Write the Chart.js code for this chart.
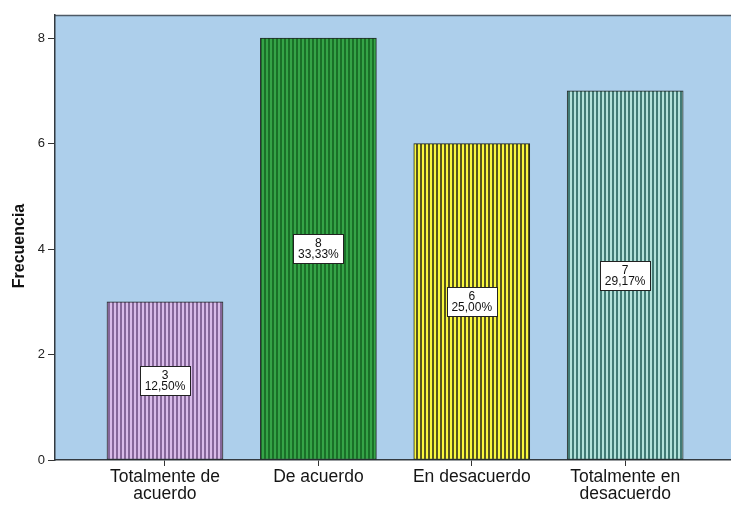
<!DOCTYPE html>
<html>
<head>
<meta charset="utf-8">
<script src="https://cdn.jsdelivr.net/npm/chart.js@4.4.1/dist/chart.umd.min.js"></script>
<style>
	body { margin: 0; background: #ffffff; }
	canvas { display: block; }
</style>
</head>
<body>
<canvas id="grafico" width="731" height="505"></canvas>
<script>
// datos
var categorias = [['Totalmente de', 'acuerdo'], ['De acuerdo'], ['En desacuerdo'], ['Totalmente en', 'desacuerdo']];
var frecuencias = [3, 8, 6, 7];
var porcentajes = ['12,50%', '33,33%', '25,00%', '29,17%'];
var ticksY = [0, 2, 4, 6, 8];
var tituloY = 'Frecuencia';

var fuente = '"Liberation Sans", Arial, sans-serif';

// rayas verticales como en SPSS
function rayas(claro, oscuro){
	var c = document.createElement('canvas');
	c.width = 4;
	c.height = 4;
	var ctx = c.getContext('2d');
	ctx.fillStyle = claro;
	ctx.fillRect(0, 0, 4, 4);
	ctx.fillStyle = oscuro;
	ctx.fillRect(0, 0, 2, 4);
	return ctx.createPattern(c, 'repeat');
}

var rellenos = [
	rayas('#d9bbe9', '#86679a'),
	rayas('#35a447', '#1a7028'),
	rayas('#f9f73e', '#58561f'),
	rayas('#b3e2da', '#427b75')
];

var fondo = {
	id: 'fondo',
	beforeDraw: function(chart){
		var a = chart.chartArea;
		var ctx = chart.ctx;
		ctx.save();
		ctx.fillStyle = '#adcfeb';
		ctx.fillRect(a.left, a.top, a.right - a.left, a.bottom - a.top);
		ctx.strokeStyle = '#4e5a66';
		ctx.lineWidth = 1.5;
		ctx.beginPath();
		ctx.moveTo(a.left, a.top + 0.5);
		ctx.lineTo(a.right, a.top + 0.5);
		ctx.stroke();
		ctx.restore();
	},
	afterDraw: function(chart){
		// titulo del eje Y, un poco mas abajo que el centro
		var ctx = chart.ctx;
		ctx.save();
		ctx.translate(20, 246);
		ctx.rotate(-Math.PI / 2);
		ctx.font = 'bold 16px ' + fuente;
		ctx.fillStyle = '#111111';
		ctx.textAlign = 'center';
		ctx.textBaseline = 'middle';
		ctx.fillText(tituloY, 0, 0);
		ctx.restore();
	}
};

var etiquetas = {
	id: 'etiquetas',
	afterDatasetsDraw: function(chart){
		var ctx = chart.ctx;
		var meta = chart.getDatasetMeta(0);
		ctx.save();
		ctx.font = '12px ' + fuente;
		ctx.textAlign = 'center';
		ctx.textBaseline = 'middle';
		meta.data.forEach(function(barra, i){
			var cx = barra.x;
			var cy = (barra.y + barra.base) / 2;
			var w = 50, h = 29;
			var x0 = Math.round(cx - w / 2) + 0.5;
			var y0 = Math.round(cy - h / 2) + 0.5;
			ctx.fillStyle = '#ffffff';
			ctx.fillRect(x0, y0, w, h);
			ctx.strokeStyle = '#222222';
			ctx.lineWidth = 1;
			ctx.strokeRect(x0, y0, w, h);
			ctx.fillStyle = '#111111';
			ctx.fillText(String(frecuencias[i]), cx, cy - 5);
			ctx.fillText(porcentajes[i], cx, cy + 6);
		});
		ctx.restore();
	}
};

var datos = frecuencias.map(function(v, i){ return { x: i, y: v }; });

new Chart(document.getElementById('grafico'), {
	type: 'bar',
	data: {
		datasets: [{
			label: 'Frecuencia',
			data: datos,
			backgroundColor: rellenos,
			borderColor: '#1f2624',
			borderWidth: 1,
			borderSkipped: false,
			barThickness: 116
		}]
	},
	options: {
		responsive: false,
		animation: false,
		layout: { padding: { top: 15, right: 0, left: 0, bottom: 0 } },
		plugins: {
			legend: { display: false },
			tooltip: { enabled: false }
		},
		scales: {
			x: {
				type: 'linear',
				offset: false,
				min: -0.717,
				max: 3.69,
				afterBuildTicks: function(s){
					s.ticks = categorias.map(function(c, i){ return { value: i }; });
				},
				afterFit: function(s){ s.height = 45; },
				ticks: {
					autoSkip: false,
					maxRotation: 0,
					padding: 3,
					color: '#151515',
					font: { family: fuente, size: 17.5, lineHeight: 0.96 },
					callback: function(v){ return categorias[v]; }
				},
				grid: { offset: false, drawOnChartArea: false, drawTicks: true, tickLength: 6, color: '#333333' },
				border: { color: '#333a40', width: 1.5 }
			},
			y: {
				min: 0,
				max: 8.44,
				afterBuildTicks: function(s){
					s.ticks = ticksY.map(function(v){ return { value: v }; });
				},
				afterFit: function(s){ s.width = 55; },
				ticks: {
					padding: 3,
					color: '#222222',
					font: { family: fuente, size: 13 }
				},
				grid: { drawOnChartArea: false, drawTicks: true, tickLength: 7, color: '#333333' },
				border: { color: '#333a40', width: 1.5 }
			}
		}
	},
	plugins: [fondo, etiquetas]
});
</script>
</body>
</html>
